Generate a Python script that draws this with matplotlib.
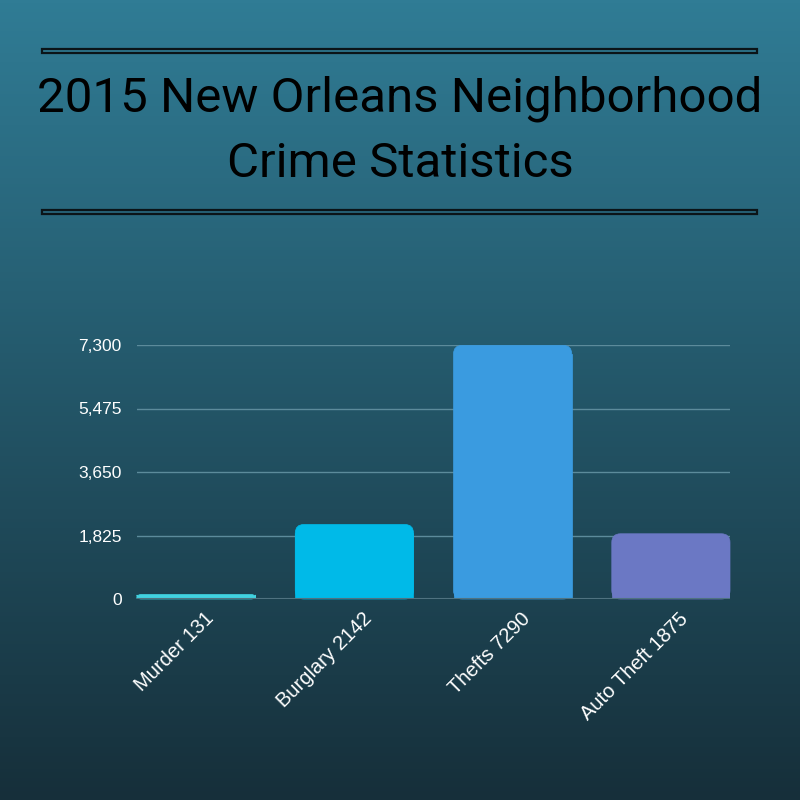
import numpy as np
import matplotlib
matplotlib.use('Agg')
from matplotlib import pyplot as plt
from matplotlib.patches import FancyBboxPatch, Rectangle
import matplotlib.transforms as mtransforms

# data
categories = ['Murder 131', 'Burglary 2142', 'Thefts 7290', 'Auto Theft 1875']
values = [131, 2142, 7290, 1875]
y_ticks = [0, 1825, 3650, 5475, 7300]
y_tick_labels = ['0', '1,825', '3,650', '5,475', '7,300']
bar_colors = ['#41d2e0', '#00bae8', '#3a9be0', '#6b78c4']

title_font = ['Roboto', 'DejaVu Sans']
label_font = ['Liberation Sans', 'DejaVu Sans']

fig = plt.figure(figsize=(8, 8), dpi=100)

# background gradient
bg = fig.add_axes([0, 0, 1, 1])
top = np.array([0x30, 0x7c, 0x95]) / 255
bottom = np.array([0x16, 0x2f, 0x3a]) / 255
t = np.linspace(0, 1, 256)[:, None]
grad = top * (1 - t) + bottom * t
bg.imshow(grad[:, None, :], aspect='auto', extent=[0, 1, 0, 1], origin='upper')
bg.set_xlim(0, 1)
bg.set_ylim(0, 1)
bg.axis('off')

# title rules (thin outlined boxes)
for y0 in [1 - 53 / 800, 1 - 214 / 800]:
    bg.add_patch(Rectangle((42 / 800, y0), 715 / 800, 4.5 / 800, facecolor='none',
                           edgecolor='#0b1418', linewidth=1.6))

bg.text(0.5, 1 - 99 / 800, '2015 New Orleans Neighborhood', ha='center', va='center',
        fontsize=35.5, color='black', family=title_font)
bg.text(0.5, 1 - 164 / 800, 'Crime Statistics', ha='center', va='center',
        fontsize=35.5, color='black', family=title_font)

# chart
ax = fig.add_axes([137 / 800, 1 - 599 / 800, 593 / 800, 254 / 800])
ax.patch.set_alpha(0)
x = np.arange(len(categories))
bars = ax.bar(x, values, width=0.747, color=bar_colors, zorder=3)
ax.set_xlim(-0.3735, 3.3735)
ax.set_ylim(0, 7300)

# swap plain bars for ones with rounded tops
aspect = (7300 / 254) / (1 / 158)
for b, c in zip(bars, bar_colors):
    bx, by, bw, bh = b.get_x(), b.get_y(), b.get_width(), b.get_height()
    b.set_visible(False)
    r = min(0.055, bh / aspect * 0.9)
    ax.add_patch(FancyBboxPatch((bx, by), bw, bh,
                                boxstyle='round,pad=0,rounding_size=%f' % r,
                                mutation_aspect=aspect, facecolor=c, edgecolor=c,
                                linewidth=0.5, zorder=3, clip_on=False))
    ax.add_patch(Rectangle((bx, by), bw, bh - r * aspect, facecolor=c,
                           edgecolor=c, linewidth=0.5, zorder=3))

ax.set_yticks(y_ticks)
ax.set_yticklabels(y_tick_labels, family=label_font, fontsize=12.5, color='white')
for yv in y_ticks[1:]:
    ax.axhline(yv, color='#5c8b9b', linewidth=1, zorder=1)
ax.axhline(0, color='#4f7280', linewidth=1.5, zorder=4)

# category labels, rotated, anchored just right of each bar centre
ax.set_xticks(x)
ax.set_xticklabels([])
shift = mtransforms.ScaledTranslation(8 / 100, -10 / 100, fig.dpi_scale_trans)
for xi, name in zip(x, categories):
    ax.text(xi, 0, name, family=label_font, fontsize=14.5, color='white',
            rotation=45, ha='right', va='top', rotation_mode='anchor',
            transform=ax.transData + shift, clip_on=False)

ax.tick_params(axis='both', length=0)
ax.tick_params(axis='y', pad=11)
for s in ax.spines.values():
    s.set_visible(False)

fig.savefig('out.png', dpi=100)
